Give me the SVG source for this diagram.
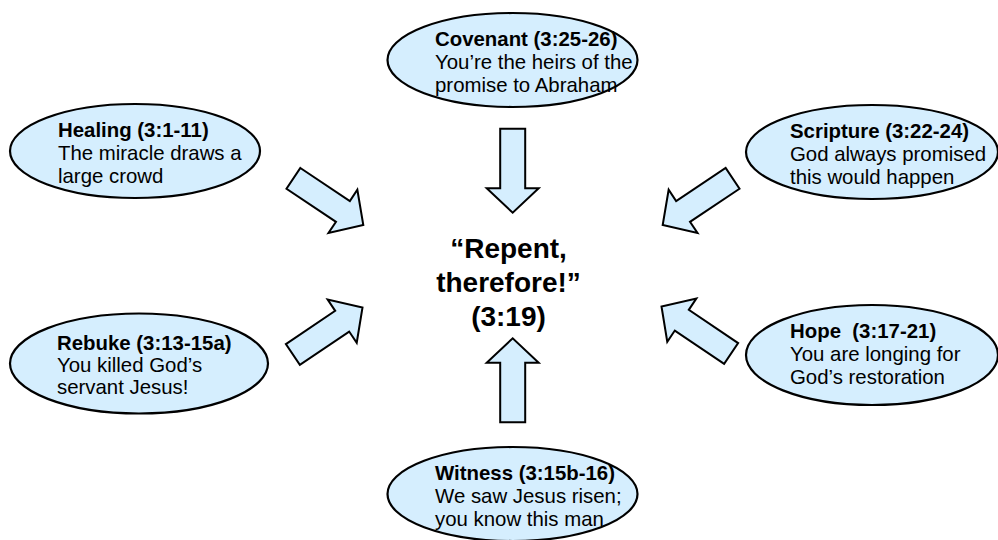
<svg xmlns="http://www.w3.org/2000/svg" width="998" height="540" viewBox="0 0 998 540">
<style>
.node ellipse{fill:#D5EEFE;stroke:#000;stroke-width:2.2}
.arrow{fill:#D5EEFE;stroke:#000;stroke-width:2;stroke-linejoin:miter}
text{font-family:"Liberation Sans",Arial,sans-serif;fill:#000}
.t{font-size:20.4px}
.b{font-weight:bold}
.c{font-size:28px;font-weight:bold;text-anchor:middle}
</style>
<defs>
<polygon id="arr" points="-84,-12.5 -24.5,-12.5 -24.5,-26 0,0 -24.5,26 -24.5,12.5 -84,12.5"/>
</defs>
<rect width="998" height="540" fill="#fff"/>
<g id="connectors">
<use href="#arr" class="arrow" transform="translate(512.7,212.7) rotate(90)"/>
<use href="#arr" class="arrow" transform="translate(512.7,338.3) rotate(-90)"/>
<use href="#arr" class="arrow" transform="translate(363.3,225) rotate(33.7)"/>
<use href="#arr" class="arrow" transform="translate(662.7,225) rotate(146.3)"/>
<use href="#arr" class="arrow" transform="translate(362.5,307.5) rotate(-34)"/>
<use href="#arr" class="arrow" transform="translate(661.5,306.5) rotate(-146)"/>
</g>
<g id="center">
<text class="c" x="508.5" y="258">“Repent,</text>
<text class="c" x="508.5" y="292">therefore!”</text>
<text class="c" x="508.5" y="326">(3:19)</text>
</g>
<g id="covenant" class="node">
<ellipse cx="512.5" cy="60" rx="125" ry="47"/>
<text class="t b" x="435" y="45.5">Covenant (3:25-26)</text>
<text class="t" x="435" y="68.5">You’re the heirs of the</text>
<text class="t" x="435" y="91.5">promise to Abraham</text>
</g>
<g id="healing" class="node">
<ellipse cx="135" cy="151" rx="125" ry="47"/>
<text class="t b" x="58" y="137">Healing (3:1-11)</text>
<text class="t" x="58" y="160">The miracle draws a</text>
<text class="t" x="58" y="183">large crowd</text>
</g>
<g id="scripture" class="node">
<ellipse cx="872" cy="152" rx="126" ry="47"/>
<text class="t b" x="790" y="138">Scripture (3:22-24)</text>
<text class="t" x="790" y="161">God always promised</text>
<text class="t" x="790" y="184">this would happen</text>
</g>
<g id="rebuke" class="node">
<ellipse cx="139" cy="363.5" rx="129" ry="50"/>
<text class="t b" x="57" y="350">Rebuke (3:13-15a)</text>
<text class="t" x="57" y="372">You killed God’s</text>
<text class="t" x="57" y="394">servant Jesus!</text>
</g>
<g id="hope" class="node">
<ellipse cx="872" cy="355" rx="126" ry="50"/>
<text class="t b" x="790" y="338" xml:space="preserve">Hope  (3:17-21)</text>
<text class="t" x="790" y="361">You are longing for</text>
<text class="t" x="790" y="384">God’s restoration</text>
</g>
<g id="witness" class="node">
<ellipse cx="512.5" cy="494" rx="125" ry="47"/>
<text class="t b" x="435" y="480">Witness (3:15b-16)</text>
<text class="t" x="435" y="503">We saw Jesus risen;</text>
<text class="t" x="435" y="526">you know this man</text>
</g>
</svg>
